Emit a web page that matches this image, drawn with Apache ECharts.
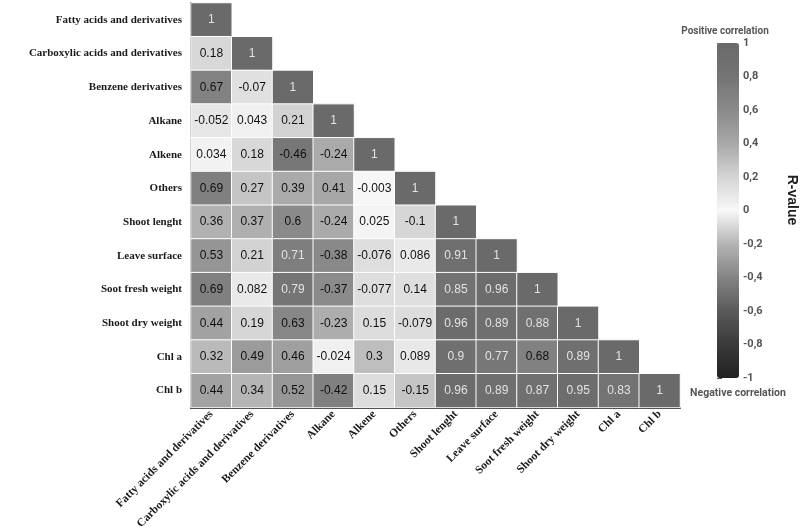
<!DOCTYPE html>
<html>
<head>
<meta charset="utf-8">
<script src="https://cdn.jsdelivr.net/npm/echarts@6/dist/echarts.min.js"></script>
<style>
  html, body { margin: 0; padding: 0; background: #fff; }
  #main { width: 800px; height: 532px; }
</style>
</head>
<body>
<div id="main"></div>
<script>
// Variables, top to bottom on the y axis and left to right on the x axis
const variables = [
    'Fatty acids and derivatives', 'Carboxylic acids and derivatives', 'Benzene derivatives',
    'Alkane', 'Alkene', 'Others', 'Shoot lenght', 'Leave surface', 'Soot fresh weight',
    'Shoot dry weight', 'Chl a', 'Chl b'
];

// Lower triangle of the correlation matrix, one row per variable
const corrRows = [
    [1],
    [0.18, 1],
    [0.67, -0.07, 1],
    [-0.052, 0.043, 0.21, 1],
    [0.034, 0.18, -0.46, -0.24, 1],
    [0.69, 0.27, 0.39, 0.41, -0.003, 1],
    [0.36, 0.37, 0.6, -0.24, 0.025, -0.1, 1],
    [0.53, 0.21, 0.71, -0.38, -0.076, 0.086, 0.91, 1],
    [0.69, 0.082, 0.79, -0.37, -0.077, 0.14, 0.85, 0.96, 1],
    [0.44, 0.19, 0.63, -0.23, 0.15, -0.079, 0.96, 0.89, 0.88, 1],
    [0.32, 0.49, 0.46, -0.024, 0.3, 0.089, 0.9, 0.77, 0.68, 0.89, 1],
    [0.44, 0.34, 0.52, -0.42, 0.15, -0.15, 0.96, 0.89, 0.87, 0.95, 0.83, 1]
];

// Colour scale from -1 to 1, in steps of 0.2
const scaleColors = ['#222222', '#3a3a3a', '#5a5a5a', '#848484', '#b4b4b4', '#f8f8f8',
    '#d4d4d4', '#a8a8a8', '#8a8a8a', '#747474', '#6a6a6a'];

const labelFont = 'Liberation Serif';
const legendFont = 'Liberation Sans Narrow, Roboto';

// Build heatmap data [x, y, value]; high values get light text
let cells = [];
for (let i = 0; i < corrRows.length; i++) {
    for (let j = 0; j < corrRows[i].length; j++) {
        const v = corrRows[i][j];
        cells.push({
            value: [j, i, v],
            label: { color: v >= 0.7 ? '#e2e2e2' : '#111' }
        });
    }
}

var myChart = echarts.init(document.getElementById('main'));
var option = {
    animation: false,
    grid: [
        { left: 191, top: 3, width: 489, height: 408 },
        { left: 717, top: 43, width: 22, height: 335 }
    ],
    xAxis: [
        {
            type: 'category',
            data: variables,
            gridIndex: 0,
            axisLine: { show: true, lineStyle: { color: '#222', width: 2 } },
            axisTick: { show: false },
            axisLabel: {
                interval: 0,
                rotate: 45,
                margin: 5,
                fontFamily: labelFont,
                fontWeight: 'bold',
                fontSize: 11.5,
                color: '#1a1a1a'
            }
        },
        { type: 'value', gridIndex: 1, show: false, min: 0, max: 1 }
    ],
    yAxis: [
        {
            type: 'category',
            data: variables,
            inverse: true,
            gridIndex: 0,
            axisLine: { show: true, lineStyle: { color: '#222', width: 2 } },
            axisTick: { show: false },
            axisLabel: {
                margin: 9,
                fontFamily: labelFont,
                fontWeight: 'bold',
                fontSize: 11,
                color: '#1a1a1a'
            }
        },
        {
            type: 'value',
            gridIndex: 1,
            position: 'right',
            min: -1,
            max: 1,
            interval: 0.2,
            axisLine: { show: false },
            splitLine: { show: false },
            axisTick: { show: true, length: 5, lineStyle: { color: '#555' } },
            axisLabel: {
                margin: 4,
                fontFamily: legendFont,
                fontWeight: 'bold',
                fontSize: 11,
                color: '#555',
                formatter: v => String(Math.round(v * 10) / 10).replace('.', ',')
            }
        }
    ],
    visualMap: {
        type: 'continuous',
        min: -1,
        max: 1,
        seriesIndex: 0,
        calculable: false,
        orient: 'vertical',
        left: 717,
        top: 43,
        padding: 0,
        itemWidth: 22,
        itemHeight: 335,
        inRange: { color: scaleColors }
    },
    graphic: [
        {
            type: 'text', x: 725, y: 31,
            style: { text: 'Positive correlation', fontFamily: legendFont, fontWeight: 'bold',
                fontSize: 10, fill: '#555', align: 'center', verticalAlign: 'middle' }
        },
        {
            type: 'text', x: 738, y: 393,
            style: { text: 'Negative correlation', fontFamily: legendFont, fontWeight: 'bold',
                fontSize: 10.5, fill: '#555', align: 'center', verticalAlign: 'middle' }
        },
        {
            type: 'text', x: 792, y: 200, rotation: -Math.PI / 2,
            style: { text: 'R-value', fontFamily: 'Liberation Sans', fontWeight: 'bold',
                fontSize: 14, fill: '#222', align: 'center', verticalAlign: 'middle' }
        }
    ],
    series: [{
        type: 'heatmap',
        xAxisIndex: 0,
        yAxisIndex: 0,
        data: cells,
        itemStyle: { borderColor: '#fff', borderWidth: 1 },
        label: {
            show: true,
            fontFamily: 'Liberation Sans',
            fontSize: 12,
            formatter: p => String(p.value[2])
        }
    }]
};
option && myChart.setOption(option);
</script>
</body>
</html>
